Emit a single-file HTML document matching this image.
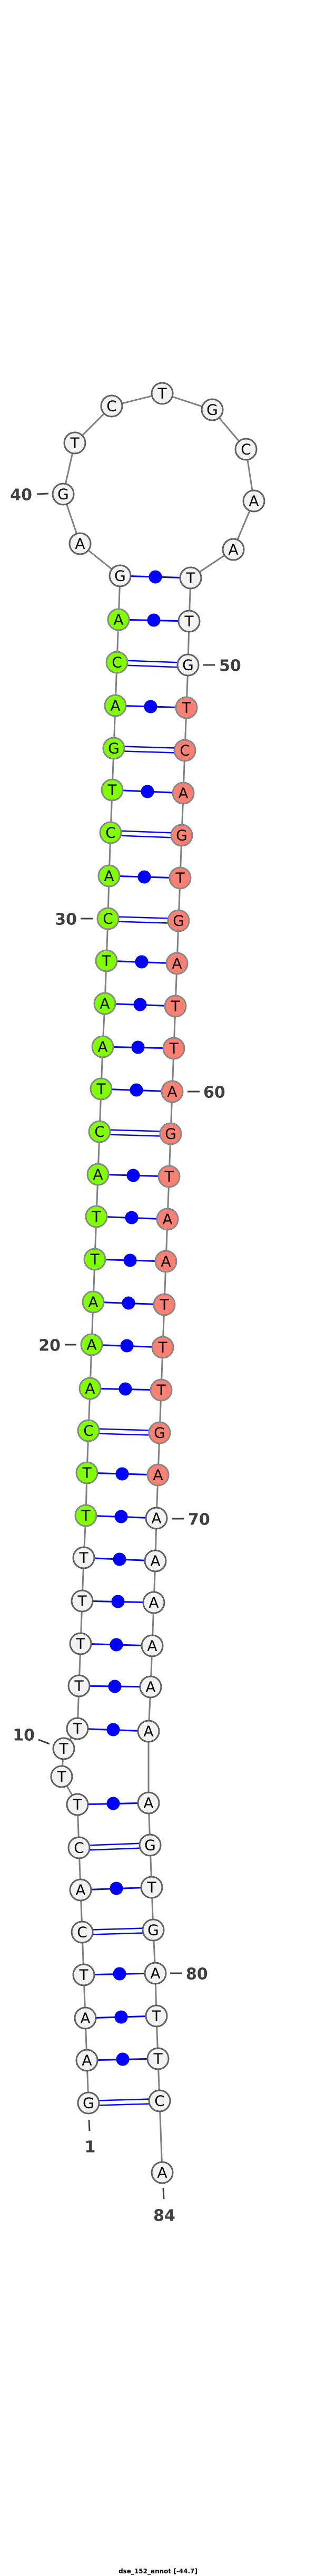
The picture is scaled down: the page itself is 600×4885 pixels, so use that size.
<!DOCTYPE html>
<html><head><meta charset="utf-8"><style>html,body{margin:0;padding:0;background:#fff}svg{display:block}</style></head><body>
<svg xmlns="http://www.w3.org/2000/svg" width="600" height="4885" viewBox="0 0 600 4885">
<rect width="600" height="4885" fill="#fff"/>
<polyline fill="none" stroke="#808080" stroke-width="3" points="168,3988 165,3907 162,3827 159,3745 156,3664 153,3584 150,3504 147,3422 117,3369 121,3316 147,3278 150,3197 153,3117 156,3036 159,2954 163,2874 165,2793 168,2713 171,2633 174,2550 177,2469 180,2388 183,2307 186,2227 189,2146 192,2065 195,1985 199,1903 202,1822 205,1742 207,1661 210,1579 213,1498 216,1419 219,1338 222,1256 225,1175 228,1092 152,1031 120,937 142,840 212,770 308,746 403,777 467,852 482,950 443,1042 362,1096 359,1178 357,1261 354,1342 351,1423 348,1504 345,1584 342,1665 339,1746 336,1827 333,1908 330,1988 327,2070 324,2150 321,2231 318,2312 315,2392 312,2474 309,2555 306,2636 303,2717 300,2797 297,2879 295,2960 292,3039 289,3121 286,3199 282,3283 282,3419 285,3499 288,3579 291,3660 295,3742 297,3823 300,3904 303,3984 308,4120"/>
<g stroke="#0000ff" stroke-width="3" fill="#0000ff">
<!-- single pairs with dot -->
<line x1="228" y1="1092" x2="362" y2="1096"/><circle cx="295" cy="1094" r="11"/>
<line x1="225" y1="1175" x2="359" y2="1178"/><circle cx="292" cy="1176" r="11"/>
<line x1="219" y1="1338" x2="354" y2="1342"/><circle cx="286" cy="1340" r="11"/>
<line x1="213" y1="1498" x2="348" y2="1504"/><circle cx="280" cy="1501" r="11"/>
<line x1="207" y1="1661" x2="342" y2="1665"/><circle cx="274" cy="1663" r="11"/>
<line x1="202" y1="1822" x2="336" y2="1827"/><circle cx="269" cy="1824" r="11"/>
<line x1="199" y1="1903" x2="333" y2="1908"/><circle cx="266" cy="1905" r="11"/>
<line x1="195" y1="1985" x2="330" y2="1988"/><circle cx="262" cy="1986" r="11"/>
<line x1="192" y1="2065" x2="327" y2="2070"/><circle cx="259" cy="2067" r="11"/>
<line x1="186" y1="2227" x2="321" y2="2231"/><circle cx="253" cy="2229" r="11"/>
<line x1="183" y1="2307" x2="318" y2="2312"/><circle cx="250" cy="2309" r="11"/>
<line x1="180" y1="2388" x2="315" y2="2392"/><circle cx="247" cy="2390" r="11"/>
<line x1="177" y1="2469" x2="312" y2="2474"/><circle cx="244" cy="2471" r="11"/>
<line x1="174" y1="2550" x2="309" y2="2555"/><circle cx="241" cy="2552" r="11"/>
<line x1="171" y1="2633" x2="306" y2="2636"/><circle cx="238" cy="2634" r="11"/>
<line x1="165" y1="2793" x2="300" y2="2797"/><circle cx="232" cy="2795" r="11"/>
<line x1="163" y1="2874" x2="297" y2="2879"/><circle cx="230" cy="2876" r="11"/>
<line x1="159" y1="2954" x2="295" y2="2960"/><circle cx="227" cy="2957" r="11"/>
<line x1="156" y1="3036" x2="292" y2="3039"/><circle cx="224" cy="3037" r="11"/>
<line x1="153" y1="3117" x2="289" y2="3121"/><circle cx="221" cy="3119" r="11"/>
<line x1="150" y1="3197" x2="286" y2="3199"/><circle cx="218" cy="3198" r="11"/>
<line x1="147" y1="3278" x2="282" y2="3283"/><circle cx="215" cy="3280" r="11"/>
<line x1="147" y1="3422" x2="282" y2="3419"/><circle cx="215" cy="3420" r="11"/>
<line x1="153" y1="3584" x2="288" y2="3579"/><circle cx="221" cy="3581" r="11"/>
<line x1="159" y1="3745" x2="295" y2="3742"/><circle cx="227" cy="3743" r="11"/>
<line x1="162" y1="3827" x2="297" y2="3823"/><circle cx="230" cy="3825" r="11"/>
<line x1="165" y1="3907" x2="300" y2="3904"/><circle cx="233" cy="3905" r="11"/>
</g>
<g stroke="#0000ff" stroke-width="2.5" fill="none">
<!-- GC double lines -->
<line x1="222" y1="1252" x2="357" y2="1257"/><line x1="222" y1="1261" x2="357" y2="1266"/>
<line x1="216" y1="1415" x2="351" y2="1419"/><line x1="216" y1="1424" x2="351" y2="1428"/>
<line x1="210" y1="1575" x2="345" y2="1580"/><line x1="210" y1="1584" x2="345" y2="1589"/>
<line x1="205" y1="1738" x2="339" y2="1742"/><line x1="205" y1="1747" x2="339" y2="1751"/>
<line x1="189" y1="2142" x2="324" y2="2146"/><line x1="189" y1="2151" x2="324" y2="2155"/>
<line x1="168" y1="2709" x2="303" y2="2713"/><line x1="168" y1="2718" x2="303" y2="2722"/>
<line x1="150" y1="3500" x2="285" y2="3495"/><line x1="150" y1="3509" x2="285" y2="3504"/>
<line x1="156" y1="3660" x2="291" y2="3656"/><line x1="156" y1="3669" x2="291" y2="3665"/>
<line x1="168" y1="3984" x2="303" y2="3980"/><line x1="168" y1="3993" x2="303" y2="3989"/>
</g>
<g stroke-width="3">
<g fill="#f2f2f2" stroke="#606060">
<circle cx="168" cy="3988" r="20"/><circle cx="165" cy="3907" r="20"/><circle cx="162" cy="3827" r="20"/><circle cx="159" cy="3745" r="20"/><circle cx="156" cy="3664" r="20"/><circle cx="153" cy="3584" r="20"/><circle cx="150" cy="3504" r="20"/><circle cx="147" cy="3422" r="20"/><circle cx="117" cy="3369" r="20"/><circle cx="121" cy="3316" r="20"/><circle cx="147" cy="3278" r="20"/><circle cx="150" cy="3197" r="20"/><circle cx="153" cy="3117" r="20"/><circle cx="156" cy="3036" r="20"/><circle cx="159" cy="2954" r="20"/>
<circle cx="228" cy="1092" r="20"/><circle cx="152" cy="1031" r="20"/><circle cx="120" cy="937" r="20"/><circle cx="142" cy="840" r="20"/><circle cx="212" cy="770" r="20"/><circle cx="308" cy="746" r="20"/><circle cx="403" cy="777" r="20"/><circle cx="467" cy="852" r="20"/><circle cx="482" cy="950" r="20"/><circle cx="443" cy="1042" r="20"/><circle cx="362" cy="1096" r="20"/><circle cx="359" cy="1178" r="20"/><circle cx="357" cy="1261" r="20"/>
<circle cx="297" cy="2879" r="20"/><circle cx="295" cy="2960" r="20"/><circle cx="292" cy="3039" r="20"/><circle cx="289" cy="3121" r="20"/><circle cx="286" cy="3199" r="20"/><circle cx="282" cy="3283" r="20"/><circle cx="282" cy="3419" r="20"/><circle cx="285" cy="3499" r="20"/><circle cx="288" cy="3579" r="20"/><circle cx="291" cy="3660" r="20"/><circle cx="295" cy="3742" r="20"/><circle cx="297" cy="3823" r="20"/><circle cx="300" cy="3904" r="20"/><circle cx="303" cy="3984" r="20"/><circle cx="308" cy="4120" r="20"/>
</g>
<g fill="#80ff00" stroke="#888">
<circle cx="163" cy="2874" r="20"/><circle cx="165" cy="2793" r="20"/><circle cx="168" cy="2713" r="20"/><circle cx="171" cy="2633" r="20"/><circle cx="174" cy="2550" r="20"/><circle cx="177" cy="2469" r="20"/><circle cx="180" cy="2388" r="20"/><circle cx="183" cy="2307" r="20"/><circle cx="186" cy="2227" r="20"/><circle cx="189" cy="2146" r="20"/><circle cx="192" cy="2065" r="20"/><circle cx="195" cy="1985" r="20"/><circle cx="199" cy="1903" r="20"/><circle cx="202" cy="1822" r="20"/><circle cx="205" cy="1742" r="20"/><circle cx="207" cy="1661" r="20"/><circle cx="210" cy="1579" r="20"/><circle cx="213" cy="1498" r="20"/><circle cx="216" cy="1419" r="20"/><circle cx="219" cy="1338" r="20"/><circle cx="222" cy="1256" r="20"/><circle cx="225" cy="1175" r="20"/>
</g>
<g fill="#fa8072" stroke="#888">
<circle cx="354" cy="1342" r="20"/><circle cx="351" cy="1423" r="20"/><circle cx="348" cy="1504" r="20"/><circle cx="345" cy="1584" r="20"/><circle cx="342" cy="1665" r="20"/><circle cx="339" cy="1746" r="20"/><circle cx="336" cy="1827" r="20"/><circle cx="333" cy="1908" r="20"/><circle cx="330" cy="1988" r="20"/><circle cx="327" cy="2070" r="20"/><circle cx="324" cy="2150" r="20"/><circle cx="321" cy="2231" r="20"/><circle cx="318" cy="2312" r="20"/><circle cx="315" cy="2392" r="20"/><circle cx="312" cy="2474" r="20"/><circle cx="309" cy="2555" r="20"/><circle cx="306" cy="2636" r="20"/><circle cx="303" cy="2717" r="20"/><circle cx="300" cy="2797" r="20"/>
</g>
</g>
<g font-family="DejaVu Sans, Liberation Sans, sans-serif" font-size="28" fill="#000" text-anchor="middle" dominant-baseline="central">
<text x="168" y="3988">G</text><text x="165" y="3907">A</text><text x="162" y="3827">A</text><text x="159" y="3745">T</text><text x="156" y="3664">C</text><text x="153" y="3584">A</text><text x="150" y="3504">C</text><text x="147" y="3422">T</text><text x="117" y="3369">T</text><text x="121" y="3316">T</text><text x="147" y="3278">T</text><text x="150" y="3197">T</text><text x="153" y="3117">T</text><text x="156" y="3036">T</text><text x="159" y="2954">T</text><text x="163" y="2874">T</text><text x="165" y="2793">T</text><text x="168" y="2713">C</text><text x="171" y="2633">A</text><text x="174" y="2550">A</text><text x="177" y="2469">A</text><text x="180" y="2388">T</text><text x="183" y="2307">T</text><text x="186" y="2227">A</text><text x="189" y="2146">C</text><text x="192" y="2065">T</text><text x="195" y="1985">A</text><text x="199" y="1903">A</text><text x="202" y="1822">T</text><text x="205" y="1742">C</text><text x="207" y="1661">A</text><text x="210" y="1579">C</text><text x="213" y="1498">T</text><text x="216" y="1419">G</text><text x="219" y="1338">A</text><text x="222" y="1256">C</text><text x="225" y="1175">A</text><text x="228" y="1092">G</text>
<text x="152" y="1031">A</text><text x="120" y="937">G</text><text x="142" y="840">T</text><text x="212" y="770">C</text><text x="308" y="746">T</text><text x="403" y="777">G</text><text x="467" y="852">C</text><text x="482" y="950">A</text><text x="443" y="1042">A</text>
<text x="362" y="1096">T</text><text x="359" y="1178">T</text><text x="357" y="1261">G</text><text x="354" y="1342">T</text><text x="351" y="1423">C</text><text x="348" y="1504">A</text><text x="345" y="1584">G</text><text x="342" y="1665">T</text><text x="339" y="1746">G</text><text x="336" y="1827">A</text><text x="333" y="1908">T</text><text x="330" y="1988">T</text><text x="327" y="2070">A</text><text x="324" y="2150">G</text><text x="321" y="2231">T</text><text x="318" y="2312">A</text><text x="315" y="2392">A</text><text x="312" y="2474">T</text><text x="309" y="2555">T</text><text x="306" y="2636">T</text><text x="303" y="2717">G</text><text x="300" y="2797">A</text><text x="297" y="2879">A</text><text x="295" y="2960">A</text><text x="292" y="3039">A</text><text x="289" y="3121">A</text><text x="286" y="3199">A</text><text x="282" y="3283">A</text><text x="282" y="3419">A</text><text x="285" y="3499">G</text><text x="288" y="3579">T</text><text x="291" y="3660">G</text><text x="295" y="3742">A</text><text x="297" y="3823">T</text><text x="300" y="3904">T</text><text x="303" y="3984">C</text><text x="308" y="4120">A</text>
</g>
<g stroke="#404040" stroke-width="3">
<line x1="70" y1="937" x2="92" y2="936"/>
<line x1="385" y1="1261" x2="408" y2="1261"/>
<line x1="153" y1="1742" x2="176" y2="1742"/>
<line x1="356" y1="2070" x2="379" y2="2070"/>
<line x1="123" y1="2550" x2="145" y2="2550"/>
<line x1="326" y1="2880" x2="349" y2="2880"/>
<line x1="73" y1="3299" x2="94" y2="3307"/>
<line x1="323" y1="3742" x2="346" y2="3742"/>
<line x1="169" y1="4020" x2="170" y2="4041"/>
<line x1="310" y1="4149" x2="311" y2="4170"/>
</g>
<g font-family="DejaVu Sans, Liberation Sans, sans-serif" font-size="30" font-weight="bold" fill="#404040" dominant-baseline="central">
<text x="61" y="939" text-anchor="end">40</text>
<text x="416" y="1263">50</text>
<text x="146" y="1744" text-anchor="end">30</text>
<text x="386" y="2072">60</text>
<text x="115" y="2552" text-anchor="end">20</text>
<text x="357" y="2882">70</text>
<text x="66" y="3291" text-anchor="end">10</text>
<text x="353" y="3744">80</text>
<text x="171" y="4072" text-anchor="middle">1</text>
<text x="312" y="4202" text-anchor="middle">84</text>
</g>
<text x="300" y="4880" font-family="DejaVu Sans, Liberation Sans, sans-serif" font-size="12" font-weight="bold" fill="#000" text-anchor="middle">dse_152_annot [-44.7]</text>
</svg>
</body></html>
